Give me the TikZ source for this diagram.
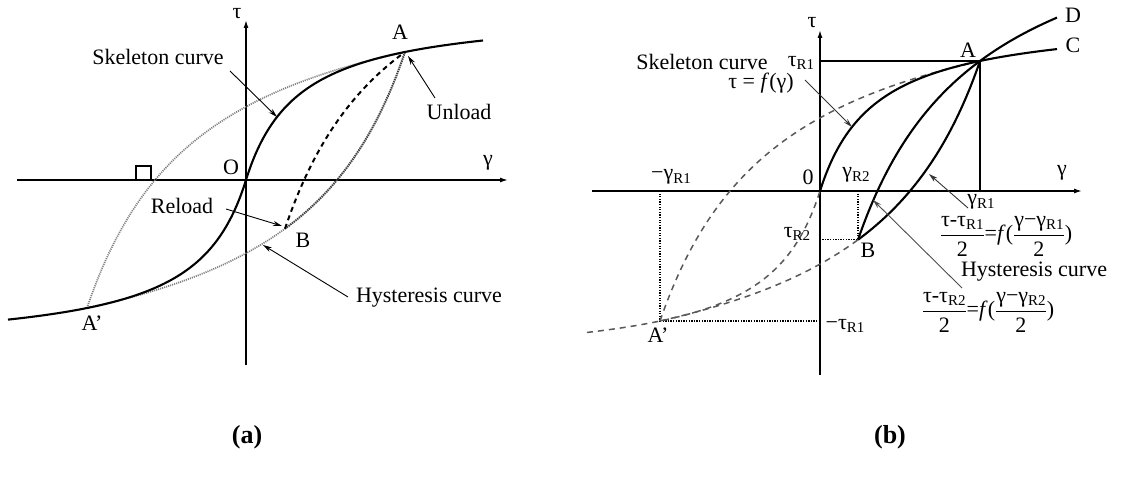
\RequirePackage{fix-cm}
\documentclass[tikz,border=0pt]{standalone}
\usepackage{amsmath}
\usepackage{fontspec}
\setmainfont{Liberation Serif}
\usetikzlibrary{arrows.meta}

\pgfmathdeclarefunction{fa}{1}{\pgfmathparse{170.7*(#1/(53+abs(#1)))}}
\pgfmathdeclarefunction{ga}{1}{\pgfmathparse{175.8*(#1/(59.4+abs(#1)))}}
\pgfmathdeclarefunction{fb}{1}{\pgfmathparse{175.2*(#1/(55.6+abs(#1)))}}
\pgfmathdeclarefunction{gb}{1}{\pgfmathparse{180.5*(#1/(62.2+abs(#1)))}}

\newcommand\sub[1]{\raisebox{-0.35ex}{\fontsize{15}{15}\selectfont #1}}
\newcommand\myfrac[2]{$\genfrac{}{}{1.1pt}{0}{\text{#1}}{\text{#2}}$}

\tikzset{
  lbl/.style={font=\fontsize{22}{26}\selectfont, inner sep=0pt},
  axisline/.style={line width=1.4pt, -{Latex[length=8pt,width=5pt]}},
  skel/.style={line width=2.1pt},
  thinline/.style={line width=1.3pt},
  pointer/.style={line width=0.9pt, -{Stealth[length=9pt,width=5pt]}},
  dotgray/.style={line width=1.7pt, black!50, dash pattern=on 1.1pt off 1pt},
  dotdark/.style={line width=2pt, black!75, dash pattern=on 1.4pt off 0.8pt},
  dashblack/.style={line width=2pt, dash pattern=on 5pt off 4pt},
  dashgray/.style={line width=1.5pt, black!65, dash pattern=on 6pt off 5pt},
  dotline/.style={line width=1.2pt, dash pattern=on 1.3pt off 1.3pt},
}

\begin{document}
\begin{tikzpicture}[x=1pt,y=-1pt]
\useasboundingbox (0,0) rectangle (1125,486);

%%%%%%%%%%%%%%%% Panel (a)
\coordinate (aL) at (17,180);
\coordinate (aR) at (508,180);
\coordinate (aB) at (246,365);
\coordinate (aT) at (246,20);
\draw[axisline] (aL) -- (aR);
\draw[axisline] (aB) -- (aT);

% loop branches
\draw[dotgray] plot[domain=-159:159,samples=80,smooth] ({246+\x},{180-(-128+2*ga((\x+159)/2))});
\draw[dotgray] plot[domain=-159:39,samples=60,smooth] ({246+\x},{180-(128+2*ga((\x-159)/2))});
\draw[dotdark] plot[domain=39:159,samples=40,smooth] ({246+\x},{180-(128+2*ga((\x-159)/2))});
\draw[dashblack] plot[domain=39:159,samples=40,smooth] ({246+\x},{180-(-48.68+2*ga((\x-39)/2))});
% skeleton
\draw[skel] plot[domain=-238:237,samples=120,smooth] ({246+\x},{180-fa(\x)});

% square marker
\draw[line width=1.2pt] (136,166) rectangle (151,180);

\coordinate (Aa) at (405,52);
\coordinate (Ba) at (285,228.7);
\coordinate (Apa) at (87,308);

\node[lbl] (tauA) at (237,14) {τ};
\node[lbl] (gamA) at (488,163) {γ};
\node[lbl] (Oa) at (231,167) {O};
\node[lbl] (Alab) at (400,32) {A};
\node[lbl] (Blab) at (303,240) {B};
\node[lbl] (Aplab) at (92,323) {A'};
\node[lbl] (skA) at (158,57) {Skeleton curve};
\node[lbl] (unl) at (459,112) {Unload};
\node[lbl] (rel) at (182,206) {Reload};
\node[lbl] (hysA) at (429,298) {Hysteresis curve};

\coordinate (skAs) at (230,71);
\coordinate (skAe) at (277,117);
\coordinate (unls) at (435,98);
\coordinate (unle) at (408,56);
\coordinate (rels) at (226,209);
\coordinate (rele) at (282,226);
\coordinate (hysAs) at (348,297);
\coordinate (hysAe) at (263,245);
\draw[pointer] (skAs) -- (skAe);
\draw[pointer] (unls) -- (unle);
\draw[pointer] (rels) -- (rele);
\draw[pointer] (hysAs) -- (hysAe);

\node[lbl, font=\bfseries\fontsize{26}{30}\selectfont] (capa) at (247,437) {(a)};

%%%%%%%%%%%%%%%% Panel (b)
\coordinate (bL) at (592,191);
\coordinate (bR) at (1082,191);
\coordinate (bB) at (820,375);
\coordinate (bT) at (820,30);
\draw[axisline] (bL) -- (bR);
\draw[axisline] (bB) -- (bT);

\coordinate (Ab) at (980,61);
\coordinate (Bb) at (858,239.74);
\coordinate (Apb) at (660,321);
\coordinate (tR1) at (820,61);
\coordinate (gR1) at (980,191);
\coordinate (gmR1) at (660,191);
\coordinate (tmR1) at (820,321);
\coordinate (gR2) at (858,191);
\coordinate (tR2) at (820,239.74);

\draw[thinline] (tR1) -- (Ab) -- (gR1);
\draw[dotline] (gmR1) -- (Apb) -- (tmR1);
\draw[dotline] (gR2) -- (Bb) -- (tR2);

% dashed curves
\draw[dashgray] plot[domain=-233:0,samples=80,smooth] ({820+\x},{191-fb(\x)});
\draw[dashgray] plot[domain=-160:160,samples=80,smooth] ({820+\x},{191-(-130+2*gb((\x+160)/2))});
\draw[dashgray] plot[domain=-160:38,samples=60,smooth] ({820+\x},{191-(130+2*gb((\x-160)/2))});
% solid curves
\draw[skel] plot[domain=0:237,samples=80,smooth] ({820+\x},{191-fb(\x)});
\draw[skel] plot[domain=38:160,samples=50,smooth] ({820+\x},{191-(130+2*gb((\x-160)/2))});
\draw[skel] plot[domain=38:237,samples=70,smooth] ({820+\x},{191-(-48.74+2*gb((\x-38)/2))});

\node[lbl] (tauB) at (812,23) {τ};
\node[lbl] (gamB) at (1062,173) {γ};
\node[lbl] (zero) at (808,177) {0};
\node[lbl] (Ablab) at (968,50) {A};
\node[lbl] (Dlab) at (1073,15) {D};
\node[lbl] (Clab) at (1073,45) {C};
\node[lbl] (Bblab) at (868,250) {B};
\node[lbl] (Apblab) at (658,335) {A'};
\node[lbl] (skB) at (702,62) {Skeleton curve};
\node[lbl] (tR1lab) at (801,63) {τ\sub{R1}};
\node[lbl] (fgam) at (761,83) {τ = \textit{f}(γ)};
\node[lbl] (mgR1lab) at (671,177) {−γ\sub{R1}};
\node[lbl] (gR2lab) at (856,175) {γ\sub{R2}};
\node[lbl] (gR1lab) at (981,202) {γ\sub{R1}};
\node[lbl] (tR2lab) at (797,234) {τ\sub{R2}};
\node[lbl] (mtR1lab) at (845,326) {−τ\sub{R1}};
\node[lbl] (eq1) at (1006,236) {\myfrac{τ-τ\sub{R1}}{2}=\textit{f}(\myfrac{γ−γ\sub{R1}}{2})};
\node[lbl] (hysB) at (1034,272) {Hysteresis curve};
\node[lbl] (eq2) at (988,312) {\myfrac{τ-τ\sub{R2}}{2}=\textit{f}(\myfrac{γ−γ\sub{R2}}{2})};

\coordinate (skBs) at (805,80);
\coordinate (skBe) at (852,127);
\coordinate (gR1s) at (968,208);
\coordinate (gR1e) at (929,174);
\coordinate (hysBs) at (962,288);
\coordinate (hysBe) at (873,200);
\draw[pointer, black!80] (skBs) -- (skBe);
\draw[pointer, black!80] (gR1s) -- (gR1e);
\draw[pointer, black!70] (hysBs) -- (hysBe);

\node[lbl, font=\bfseries\fontsize{26}{30}\selectfont] (capb) at (890,437) {(b)};
\end{tikzpicture}
\end{document}
